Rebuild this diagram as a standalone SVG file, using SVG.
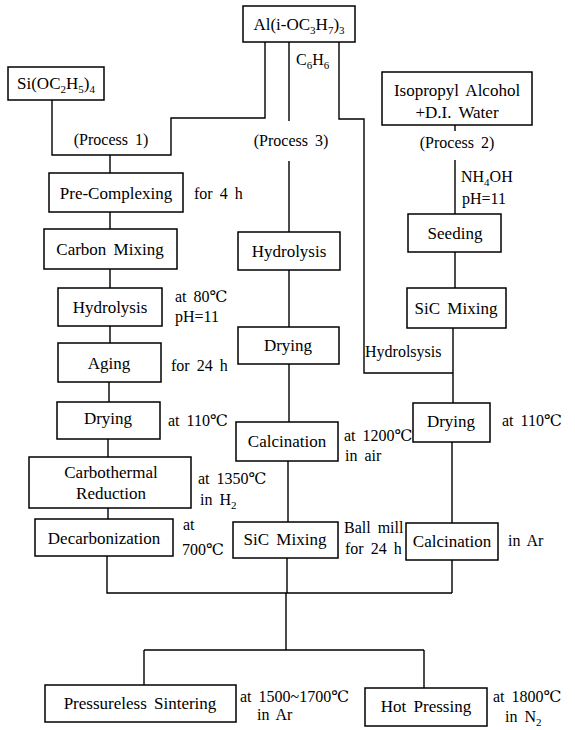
<svg xmlns="http://www.w3.org/2000/svg" width="575" height="730" viewBox="0 0 575 730">
<style>
.b{fill:#fff;stroke:#000;stroke-width:1.5}
.c{fill:none;stroke:#000;stroke-width:1.4}
text{font-family:"Liberation Serif","Times New Roman","DejaVu Serif",serif;fill:#000}
.n{font-size:17px;text-anchor:middle;word-spacing:3px}
.l{font-size:16px;word-spacing:3px}
.m{font-size:16px;text-anchor:middle;word-spacing:3px}
.s{font-size:11px}
</style>
<rect width="575" height="730" fill="#fff"/>
<g id="connectors">
<path class="c" d="M52,100 V155 H171 V118 H265 V42"/>
<path class="c" d="M110,155 V173"/>
<path class="c" d="M289,42 V121 M289,161 V232"/>
<path class="c" d="M339,42 V119 H364 V373 H453"/>
<path class="c" d="M455,125 V131 M455,160 V214"/>
<path class="c" d="M110,212 V229 M110,269 V288 M110,326 V343 M109,382 V402 M108,439 V457 M108,508 V519"/>
<path class="c" d="M107,556 V593 H452"/>
<path class="c" d="M289,270 V327 M289,364 V422 M288,461 V522 M287,558 V593"/>
<path class="c" d="M455,252 V288 M453,328 V403 M452,442 V523 M452,560 V593"/>
<path class="c" d="M286,593 V650 M144,650 H424 M144,650 V685 M424,650 V688"/>
</g>
<g id="al"><rect class="b" x="243" y="6" width="112" height="36"/><text class="n" x="299" y="30">Al(i-OC<tspan class="s" dy="4">3</tspan><tspan dy="-4">H</tspan><tspan class="s" dy="4">7</tspan><tspan dy="-4">)</tspan><tspan class="s" dy="4">3</tspan></text></g>
<g id="si"><rect class="b" x="8" y="67" width="96" height="33"/><text class="n" x="56" y="89">Si(OC<tspan class="s" dy="4">2</tspan><tspan dy="-4">H</tspan><tspan class="s" dy="4">5</tspan><tspan dy="-4">)</tspan><tspan class="s" dy="4">4</tspan></text></g>
<g id="iso"><rect class="b" x="382" y="72" width="150" height="53"/><text class="n" x="457" y="96">Isopropyl Alcohol</text><text class="n" x="457" y="118">+D.I. Water</text></g>
<g id="labels-top">
<text class="l" x="296" y="65">C<tspan class="s" dy="4">6</tspan><tspan dy="-4">H</tspan><tspan class="s" dy="4">6</tspan></text>
<text class="m" x="111" y="145">(Process 1)</text>
<text class="m" x="291" y="146">(Process 3)</text>
<text class="m" x="457" y="148">(Process 2)</text>
<text class="l" x="461" y="182">NH<tspan class="s" dy="4">4</tspan><tspan dy="-4">OH</tspan></text>
<text class="l" x="462" y="204">pH=11</text>
</g>
<g id="precomplex"><rect class="b" x="49" y="173" width="134" height="39"/><text class="n" x="116" y="199">Pre-Complexing</text><text class="l" x="194" y="199">for 4 h</text></g>
<g id="carbon"><rect class="b" x="44" y="229" width="133" height="40"/><text class="n" x="110" y="255">Carbon Mixing</text></g>
<g id="hydro1"><rect class="b" x="58" y="288" width="104" height="38"/><text class="n" x="110" y="313">Hydrolysis</text><text class="l" x="175" y="302">at 80℃</text><text class="l" x="175" y="322">pH=11</text></g>
<g id="aging"><rect class="b" x="58" y="343" width="103" height="39"/><text class="n" x="109" y="369">Aging</text><text class="l" x="171" y="371">for 24 h</text></g>
<g id="drying1"><rect class="b" x="57" y="402" width="103" height="37"/><text class="n" x="108" y="424">Drying</text><text class="l" x="168" y="426">at 110℃</text></g>
<g id="carbo"><rect class="b" x="29" y="457" width="162" height="51"/><text class="n" x="111" y="478">Carbothermal</text><text class="n" x="111" y="499">Reduction</text><text class="l" x="198" y="484">at 1350℃</text><text class="l" x="200" y="505">in H<tspan class="s" dy="4">2</tspan></text></g>
<g id="decarb"><rect class="b" x="35" y="519" width="138" height="37"/><text class="n" x="104" y="544">Decarbonization</text><text class="l" x="183" y="530">at</text><text class="l" x="182" y="555">700℃</text></g>
<g id="hydro3"><rect class="b" x="238" y="232" width="102" height="38"/><text class="n" x="289" y="257">Hydrolysis</text></g>
<g id="drying3"><rect class="b" x="238" y="327" width="101" height="37"/><text class="n" x="288" y="351">Drying</text></g>
<g id="calc3"><rect class="b" x="236" y="422" width="102" height="39"/><text class="n" x="287" y="447">Calcination</text><text class="l" x="344" y="441">at 1200℃</text><text class="l" x="345" y="461">in air</text></g>
<g id="sicmix3"><rect class="b" x="233" y="522" width="105" height="36"/><text class="n" x="285" y="545">SiC Mixing</text><text class="l" x="344" y="533">Ball mill</text><text class="l" x="345" y="554">for 24 h</text></g>
<g id="seeding"><rect class="b" x="408" y="214" width="93" height="38"/><text class="n" x="455" y="239">Seeding</text></g>
<g id="sicmix2"><rect class="b" x="407" y="288" width="99" height="40"/><text class="n" x="456" y="314">SiC Mixing</text></g>
<text class="l" x="365" y="357" style="word-spacing:0">Hydrolsysis</text>
<g id="drying2"><rect class="b" x="413" y="403" width="77" height="39"/><text class="n" x="451" y="427">Drying</text><text class="l" x="502" y="426">at 110℃</text></g>
<g id="calc2"><rect class="b" x="406" y="523" width="92" height="37"/><text class="n" x="452" y="547">Calcination</text><text class="l" x="508" y="546">in Ar</text></g>
<g id="pressureless"><rect class="b" x="45" y="685" width="191" height="37"/><text class="n" x="140" y="709">Pressureless Sintering</text><text class="l" x="240" y="702">at 1500~1700℃</text><text class="l" x="257" y="720">in Ar</text></g>
<g id="hotpress"><rect class="b" x="365" y="688" width="122" height="38"/><text class="n" x="426" y="712">Hot Pressing</text><text class="l" x="493" y="702">at 1800℃</text><text class="l" x="505" y="722">in N<tspan class="s" dy="4">2</tspan></text></g>
</svg>
